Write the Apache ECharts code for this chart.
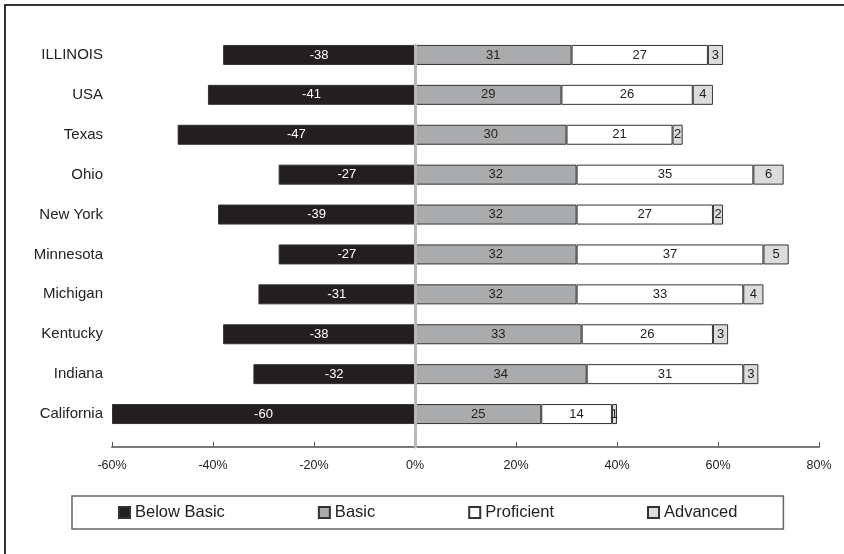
<!DOCTYPE html>
<html>
<head>
<meta charset="utf-8">
<script src="https://cdn.jsdelivr.net/npm/echarts@6/dist/echarts.min.js"></script>
<style>
  html, body { margin: 0; padding: 0; background: #fff; }
  #wrap { position: relative; width: 844px; height: 554px; overflow: hidden; }
  #frame { position: absolute; left: 4px; top: 4px; width: 900px; height: 600px;
           border-top: 2px solid #333; border-left: 2px solid #333; }
  #chart { position: absolute; left: 0; top: 0; width: 844px; height: 554px; }
</style>
</head>
<body>
<div id="wrap">
  <div id="frame"></div>
  <div id="chart"></div>
</div>
<script>
// Achievement levels by state (percent of students)
const states = ['ILLINOIS', 'USA', 'Texas', 'Ohio', 'New York', 'Minnesota', 'Michigan', 'Kentucky', 'Indiana', 'California'];
const belowBasic = [-38, -41, -47, -27, -39, -27, -31, -38, -32, -60];
const basic      = [31, 29, 30, 32, 32, 32, 32, 33, 34, 25];
const proficient = [27, 26, 21, 35, 27, 37, 33, 26, 31, 14];
const advanced   = [3, 4, 2, 6, 2, 5, 4, 3, 3, 1];
const axisTicks  = [-60, -40, -20, 0, 20, 40, 60, 80];

const FONT = '"Liberation Sans", Arial, sans-serif';
const edge = '#333333';

function levelSeries(name, data, fill, textColor) {
  return {
    name: name,
    type: 'bar',
    stack: 'level',
    xAxisIndex: 0,
    yAxisIndex: 0,
    barWidth: 20,
    data: data,
    itemStyle: { color: fill, borderColor: edge, borderWidth: 1 },
    label: {
      show: true,
      position: 'inside',
      color: textColor,
      fontFamily: FONT,
      fontSize: 13,
      formatter: p => String(p.value)
    },
    emphasis: { disabled: true }
  };
}

const chart = echarts.init(document.getElementById('chart'), null, { renderer: 'canvas' });
chart.setOption({
  animation: false,
  backgroundColor: 'transparent',
  textStyle: { fontFamily: FONT },
  grid: [
    { left: 112, right: 25, top: 35, bottom: 120 },
    { left: 112, right: 25, top: 45, bottom: 107 }
  ],
  xAxis: [
    { type: 'value', gridIndex: 0, min: axisTicks[0], max: axisTicks[axisTicks.length - 1], interval: 20, show: false },
    {
      type: 'value', gridIndex: 1,
      min: axisTicks[0], max: axisTicks[axisTicks.length - 1], interval: 20,
      axisLine: { show: true, onZero: false, lineStyle: { color: '#777', width: 2 } },
      axisTick: { show: true, inside: true, length: 5, lineStyle: { color: '#555', width: 1 } },
      axisLabel: { fontFamily: FONT, fontSize: 12.5, color: '#222', margin: 12, formatter: '{value}%' },
      splitLine: { show: false }
    }
  ],
  yAxis: [
    {
      type: 'category', gridIndex: 0, inverse: true, data: states,
      axisLine: { show: false }, axisTick: { show: false },
      axisLabel: { fontFamily: FONT, fontSize: 15, color: '#222', margin: 9 }
    },
    {
      type: 'value', gridIndex: 1, min: 0, max: 1, z: 5,
      axisLine: { show: true, onZero: true, lineStyle: { color: '#b8b8b8', width: 3 } },
      axisTick: { show: false }, axisLabel: { show: false }, splitLine: { show: false }
    }
  ],
  legend: {
    left: 72,
    top: 496,
    padding: [8, 46, 8, 46],
    itemGap: 93,
    itemWidth: 11,
    itemHeight: 11,
    icon: 'rect',
    borderColor: '#666',
    borderWidth: 1.5,
    textStyle: { fontFamily: FONT, fontSize: 16.5, color: '#222' },
    data: ['Below Basic', 'Basic', 'Proficient', 'Advanced'],
    selectedMode: false
  },
  series: [
    levelSeries('Below Basic', belowBasic, '#231f20', '#ffffff'),
    levelSeries('Basic', basic, '#aaabad', '#222222'),
    levelSeries('Proficient', proficient, '#ffffff', '#222222'),
    levelSeries('Advanced', advanced, '#dcdcdc', '#222222')
  ]
});
</script>
</body>
</html>
